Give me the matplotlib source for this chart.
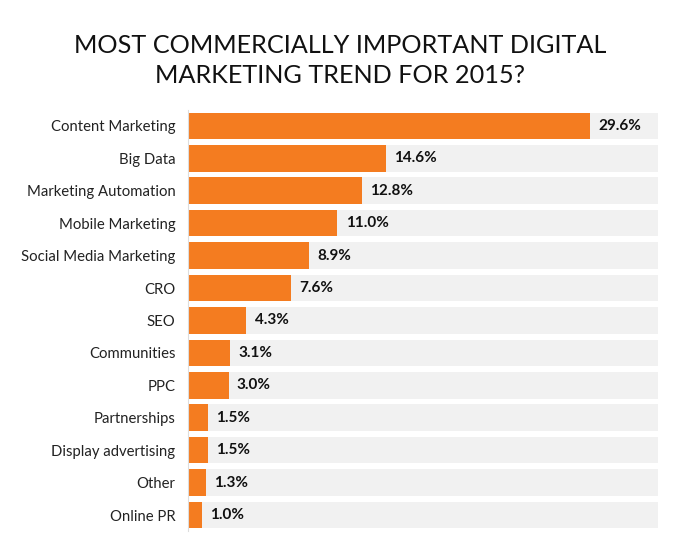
import numpy as np
import matplotlib.pyplot as plt

categories = ["Content Marketing", "Big Data", "Marketing Automation",
              "Mobile Marketing", "Social Media Marketing", "CRO", "SEO",
              "Communities", "PPC", "Partnerships", "Display advertising",
              "Other", "Online PR"]
values = [29.6, 14.6, 12.8, 11.0, 8.9, 7.6, 4.3, 3.1, 3.0, 1.5, 1.5, 1.3, 1.0]
labels = ["29.6%", "14.6%", "12.8%", "11.0%", "8.9%", "7.6%", "4.3%",
          "3.1%", "3.0%", "1.5%", "1.5%", "1.3%", "1.0%"]
track_max = 34.6

orange = '#F47C20'
plt.rcParams['font.family'] = ['Lato', 'DejaVu Sans']

fig = plt.figure(figsize=(6.8, 5.43), dpi=100)
ax = fig.add_axes([0.2765, 0.0217, 0.6911, 0.7763])

y = np.arange(len(categories))
ax.barh(y, [track_max] * len(categories), height=0.82, color='#f1f1f1', zorder=1)
ax.barh(y, values, height=0.82, color=orange, zorder=2)

for yi, v, lab in zip(y, values, labels):
    ax.text(v + 0.6, yi, lab, va='center', ha='left', fontsize=11,
            fontweight='bold', color='#111111', zorder=3)

ax.set_xlim(0, track_max)
ax.set_ylim(len(categories) - 0.5, -0.5)
ax.set_yticks(y)
ax.set_yticklabels(categories, fontsize=10.7, color='#222222')
ax.tick_params(axis='y', length=0, pad=9)
ax.set_xticks([])
for s in ['top', 'right', 'bottom']:
    ax.spines[s].set_visible(False)
ax.spines['left'].set_color('#dddddd')
ax.spines['left'].set_linewidth(0.8)

fig.text(0.5, 0.889, "MOST COMMERCIALLY IMPORTANT DIGITAL\nMARKETING TREND FOR 2015?",
         ha='center', va='center', fontsize=18.2, fontweight='normal',
         color='#111111', linespacing=1.35)

fig.savefig('out.png', dpi=100)
